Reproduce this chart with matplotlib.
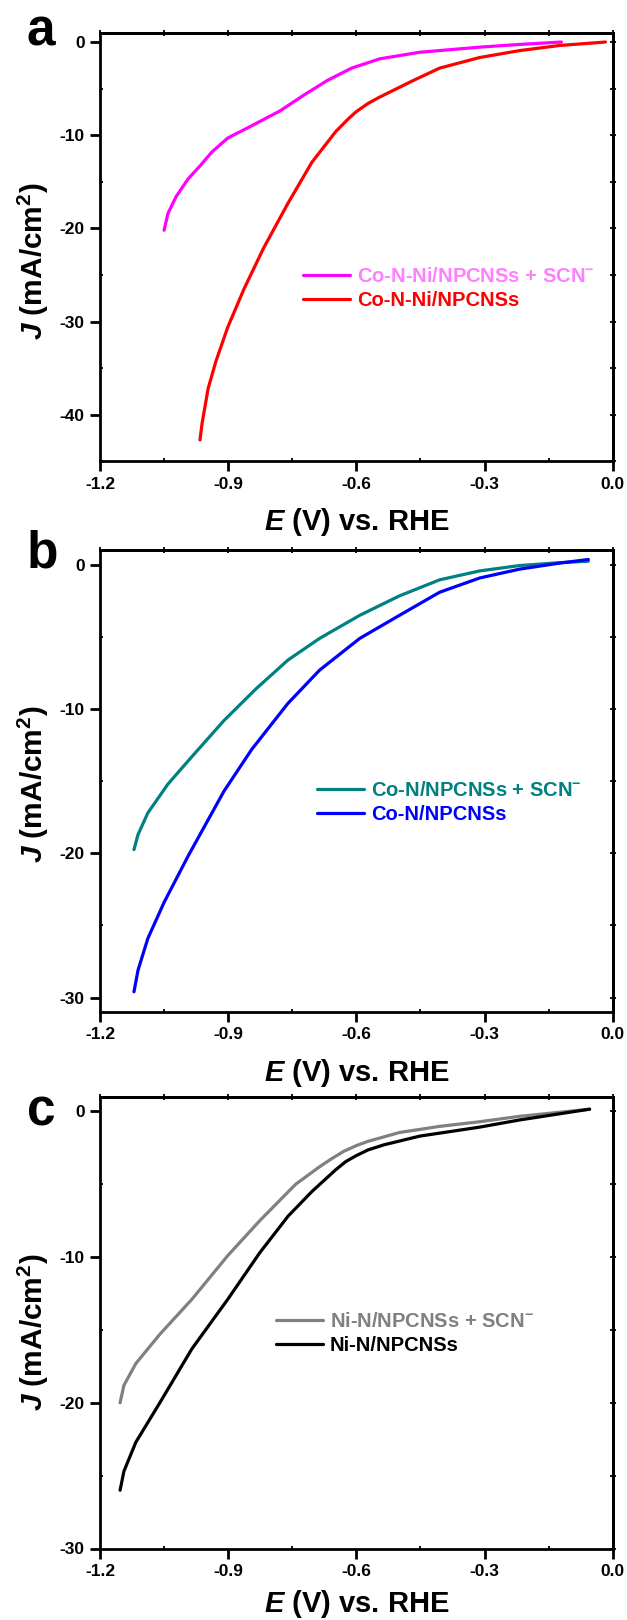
import matplotlib
matplotlib.use("Agg")
import matplotlib.pyplot as plt
from matplotlib.ticker import MultipleLocator

plt.rcParams['font.family'] = ['Liberation Sans', 'DejaVu Sans']
plt.rcParams['font.weight'] = 'bold'
plt.rcParams['axes.unicode_minus'] = False
plt.rcParams['mathtext.fontset'] = 'custom'
plt.rcParams['mathtext.rm'] = 'Liberation Sans:bold'
plt.rcParams['mathtext.bf'] = 'Liberation Sans:bold'
plt.rcParams['mathtext.it'] = 'Liberation Sans:italic:bold'
plt.rcParams['mathtext.default'] = 'rm'

# ---------------- data ----------------
# panel a
Ea_scn = [-1.050, -1.041, -1.022, -0.994, -0.966, -0.938, -0.901, -0.854, -0.779,
          -0.723, -0.667, -0.611, -0.545, -0.452, -0.311, -0.218, -0.120]
Ja_scn = [-20.2, -18.4, -16.6, -14.7, -13.3, -11.8, -10.3, -9.2, -7.4,
          -5.7, -4.1, -2.8, -1.8, -1.1, -0.55, -0.26, 0.0]
Ea = [-0.966, -0.961, -0.947, -0.929, -0.901, -0.863, -0.817, -0.760, -0.704,
      -0.648, -0.620, -0.601, -0.573, -0.545, -0.470, -0.405, -0.311, -0.218, -0.124, -0.017]
Ja = [-42.7, -40.9, -37.2, -34.3, -30.6, -26.5, -22.1, -17.3, -12.9,
      -9.6, -8.3, -7.5, -6.6, -5.9, -4.2, -2.8, -1.66, -0.92, -0.37, 0.0]
# panel b
Eb_scn = [-1.1205, -1.111, -1.088, -1.041, -0.985, -0.910, -0.835, -0.760,
          -0.686, -0.592, -0.499, -0.405, -0.311, -0.218, -0.124, -0.057]
Jb_scn = [-19.74, -18.7, -17.2, -15.2, -13.3, -10.8, -8.6, -6.6,
          -5.1, -3.5, -2.15, -1.04, -0.42, -0.05, 0.15, 0.25]
Eb = [-1.1205, -1.111, -1.088, -1.050, -0.994, -0.910, -0.845, -0.760,
      -0.686, -0.592, -0.499, -0.405, -0.311, -0.218, -0.124, -0.057]
Jb = [-29.6, -28.1, -25.9, -23.4, -20.2, -15.7, -12.8, -9.6,
      -7.3, -5.1, -3.5, -1.9, -0.91, -0.30, 0.12, 0.37]
# panel c
Ec_scn = [-1.153, -1.144, -1.116, -1.060, -0.985, -0.901, -0.826, -0.742,
          -0.686, -0.658, -0.630, -0.600, -0.573, -0.499, -0.405, -0.311, -0.218, -0.054]
Jc_scn = [-20.0, -18.8, -17.3, -15.3, -12.9, -9.9, -7.5, -5.0,
          -3.8, -3.25, -2.75, -2.35, -2.06, -1.45, -1.03, -0.71, -0.34, 0.15]
Ec = [-1.153, -1.144, -1.116, -1.060, -0.985, -0.901, -0.826, -0.760, -0.704,
      -0.648, -0.625, -0.601, -0.573, -0.536, -0.452, -0.311, -0.218, -0.054]
Jc = [-26.0, -24.7, -22.7, -20.0, -16.3, -12.9, -9.7, -7.2, -5.5,
      -4.0, -3.45, -3.05, -2.65, -2.3, -1.7, -1.08, -0.59, 0.15]

labels_a = ['Co-N-Ni/NPCNSs + SCN$^{-}$', 'Co-N-Ni/NPCNSs']
labels_b = ['Co-N/NPCNSs + SCN$^{-}$', 'Co-N/NPCNSs']
labels_c = ['Ni-N/NPCNSs + SCN$^{-}$', 'Ni-N/NPCNSs']
x_ticks = [-1.2, -0.9, -0.6, -0.3, 0.0]
x_ticklabels = ['-1.2', '-0.9', '-0.6', '-0.3', '0.0']

# ---------------- layout ----------------
W, H = 627, 1620
fig = plt.figure(figsize=(W / 100, H / 100), dpi=100)


def box(left, right, top, bottom):
    return [left / W, 1 - bottom / H, (right - left) / W, (bottom - top) / H]


panels = [
    dict(rect=box(100, 612.7, 32.7, 461.4), ylim=(-45, 1), yticks=[0, -10, -20, -30, -40],
         series=[(Ea_scn, Ja_scn, '#FF00FF', '#FF80FF'), (Ea, Ja, '#FF0000', '#FF0000')],
         labels=labels_a, letter='a', letter_xy=(27, 45),
         leg=(0.396, 0.4036), ylab_y=0.467, height=428.7, xlab_off=69),
    dict(rect=box(100, 612.7, 550.4, 1012), ylim=(-31, 1), yticks=[0, -10, -20, -30],
         series=[(Eb_scn, Jb_scn, '#008080', '#008080'), (Eb, Jb, '#0000FF', '#0000FF')],
         labels=labels_b, letter='b', letter_xy=(27, 568),
         leg=(0.423, 0.4545), ylab_y=0.494, height=461.6, xlab_off=69),
    dict(rect=box(100, 612.7, 1096.8, 1548.5), ylim=(-30, 1), yticks=[0, -10, -20, -30],
         series=[(Ec_scn, Jc_scn, '#808080', '#808080'), (Ec, Jc, '#000000', '#000000')],
         labels=labels_c, letter='c', letter_xy=(27, 1125),
         leg=(0.343, 0.4764), ylab_y=0.479, height=451.7, xlab_off=64),
]

for p in panels:
    ax = fig.add_axes(p['rect'])
    handles = []
    for (x, y, col, _tc) in p['series']:
        ln, = ax.plot(x, y, color=col, lw=2.3, solid_capstyle='round',
                      solid_joinstyle='round')
        handles.append(ln)
    ax.set_xlim(-1.2, 0.0)
    ax.set_ylim(*p['ylim'])
    ax.set_xticks(x_ticks)
    ax.set_xticklabels(x_ticklabels)
    ax.set_yticks(p['yticks'])
    ax.set_yticklabels([str(v) for v in p['yticks']])
    ax.xaxis.set_minor_locator(MultipleLocator(0.15))
    ax.yaxis.set_minor_locator(MultipleLocator(5))
    for s in ax.spines.values():
        s.set_linewidth(2.0)
    ax.tick_params(which='major', direction='out', length=7, width=2.0,
                   labelsize=12.5, pad=4)
    ax.tick_params(which='minor', direction='in', length=2.5, width=1.3)
    # small ticks on top and right
    sx = ax.secondary_xaxis('top')
    sx.xaxis.set_major_locator(MultipleLocator(0.15))
    sx.tick_params(direction='inout', length=4, width=1.3, labeltop=False)
    sx.spines['top'].set_linewidth(2.0)
    sy = ax.secondary_yaxis('right')
    sy.yaxis.set_major_locator(MultipleLocator(5))
    sy.tick_params(direction='inout', length=4, width=1.3, labelright=False)
    sy.spines['right'].set_linewidth(2.0)

    ax.set_xlabel(r'$\it{E}$ (V) vs. RHE', fontsize=21, fontweight='bold')
    ax.xaxis.label.set_va('baseline')
    ax.xaxis.set_label_coords(0.5, -p['xlab_off'] / p['height'])
    ax.set_ylabel(r'$\it{J}$ (mA/cm$^{2}$)', fontsize=21.5, fontweight='bold', va='center')
    ax.yaxis.set_label_coords(-67 / 512.7, p['ylab_y'])

    leg = ax.legend(handles, p['labels'], loc='center left', bbox_to_anchor=p['leg'],
                    frameon=False, borderpad=0, borderaxespad=0, fontsize=14.5,
                    handlelength=2.35, handletextpad=0.33, labelspacing=0.25,
                    labelcolor=[s[3] for s in p['series']])
    for lh in leg.get_lines():
        lh.set_linewidth(2.3)

    fig.text(p['letter_xy'][0] / W, 1 - p['letter_xy'][1] / H, p['letter'],
             fontsize=37, fontweight='bold', ha='left', va='baseline')

fig.savefig('out.png', dpi=100)
